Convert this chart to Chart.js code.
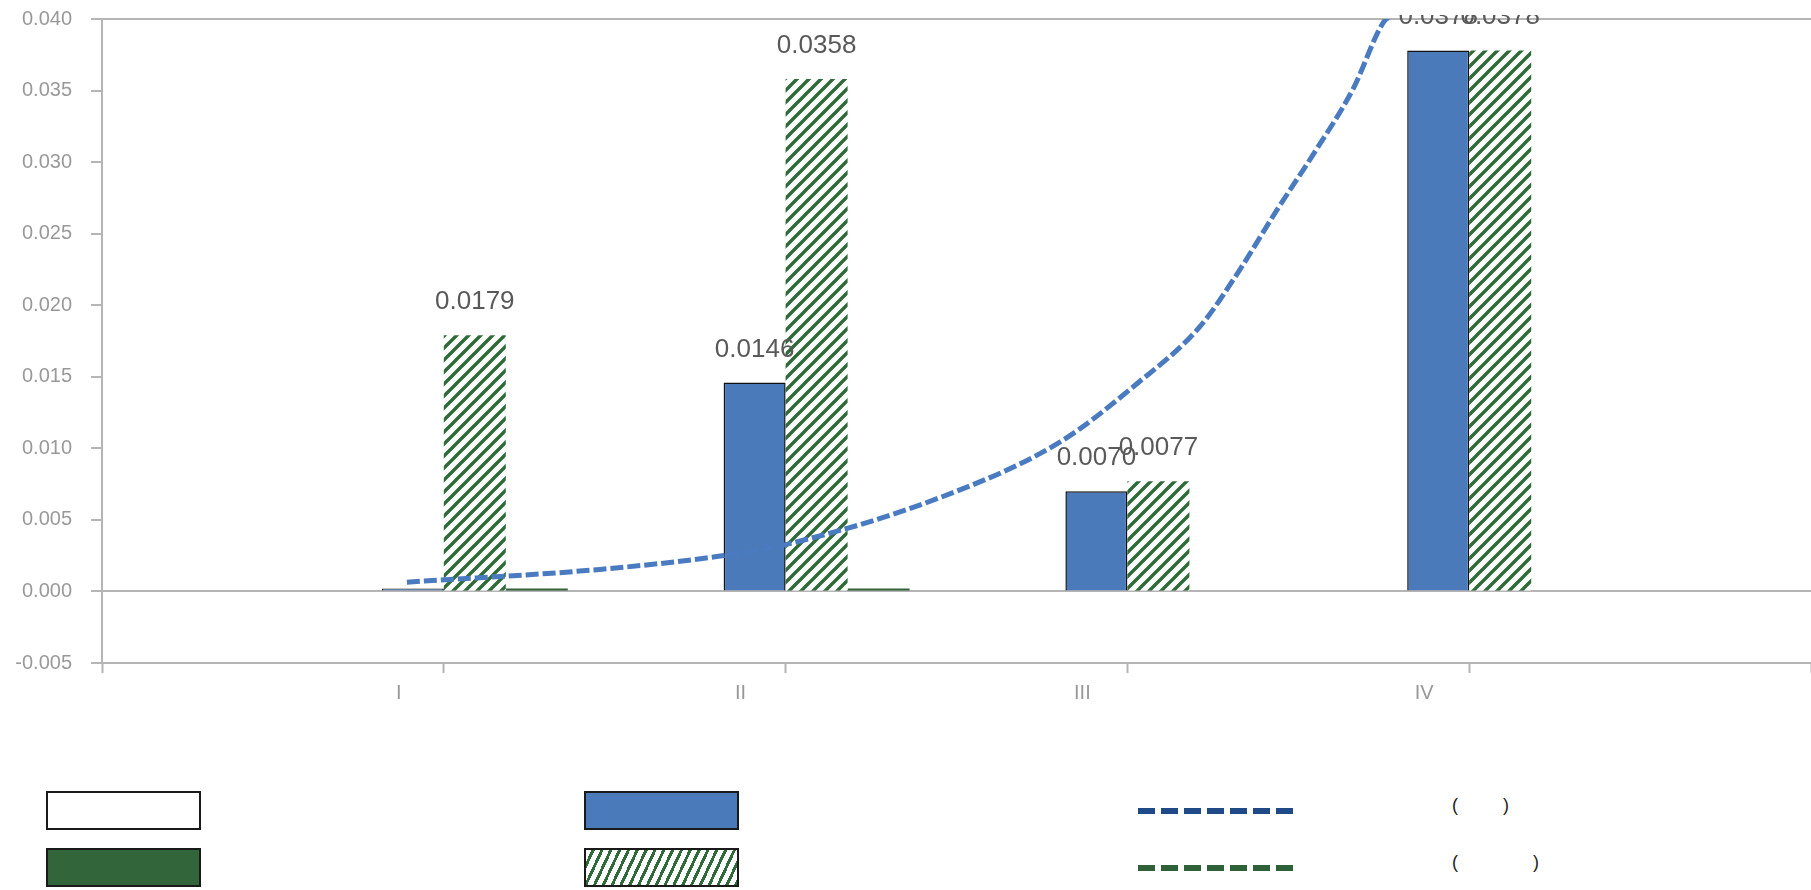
<!DOCTYPE html>
<html>
<head>
<meta charset="utf-8">
<script src="https://cdn.jsdelivr.net/npm/chart.js@4.4.0/dist/chart.umd.min.js"></script>
<style>
	body { margin: 0; background: #fff; width: 1811px; height: 890px; overflow: hidden; position: relative; font-family: "Liberation Sans", Arial, sans-serif; }
	#wrap { position: absolute; left: 0; top: -12px; width: 1819px; height: 772px; }
	.lg-box { position: absolute; width: 155px; height: 39px; box-sizing: border-box; border: 2px solid #1a1a1a; }
	.lg-line { position: absolute; width: 160px; height: 6px; }
	.lg-text { position: absolute; font-size: 18px; line-height: 20px; color: #222; white-space: pre; }
</style>
</head>
<body>
<div id="wrap"><canvas id="chart" width="1819" height="772"></canvas></div>
<div id="legend"></div>
<script>
// categories sit at x = 1..4, the axis runs 0..5
const categories = ["I", "II", "III", "IV"];

const whiteValues = [0, 0, 0, 0];
const blueValues = [0.0002, 0.0146, 0.0070, 0.0378];
const hatchValues = [0.0179, 0.0358, 0.0077, 0.0378];
const darkValues = [0.0002, 0.0002, 0, 0];

// blue trend curve (x in category units)
const trendX = [0.892, 1.457, 1.804, 1.994, 2.464, 2.800, 3.025, 3.212, 3.324, 3.436, 3.548, 3.660, 3.750, 3.771];
const trendY = [0.00065, 0.00154, 0.00246, 0.00324, 0.00667, 0.0104, 0.01446, 0.0185, 0.0223, 0.0266, 0.0307, 0.0351, 0.0398, 0.0402];

const legendLabels = ["", "", "(         )", "", "", "(               )"];

const BLUE = "#4a7aba";
const DARK = "#32653a";
const STRIPE = "#2f6b38";
const AXIS = "#b5b5b5";

function makeHatch() {
	const c = document.createElement("canvas");
	c.width = 12; c.height = 12;
	const g = c.getContext("2d");
	g.fillStyle = "#fff";
	g.fillRect(0, 0, 12, 12);
	g.strokeStyle = STRIPE;
	g.lineWidth = 3.4;
	g.beginPath();
	g.moveTo(-6, 6); g.lineTo(6, -6);
	g.moveTo(0, 12); g.lineTo(12, 0);
	g.moveTo(6, 18); g.lineTo(18, 6);
	g.stroke();
	return g.createPattern(c, "repeat");
}

const toPoints = arr => arr.map((y, i) => ({ x: i + 1, y: y }));

const valueLabels = {
	id: "valueLabels",
	afterDatasetsDraw(chart) {
		const ctx = chart.ctx;
		ctx.save();
		ctx.beginPath();
		ctx.rect(0, 27, chart.width, chart.height);
		ctx.clip();
		ctx.font = '26px "Liberation Sans", Arial, sans-serif';
		ctx.fillStyle = "#595959";
		ctx.textAlign = "center";
		ctx.textBaseline = "alphabetic";
		[1, 2].forEach(di => {
			const meta = chart.getDatasetMeta(di);
			meta.data.forEach((bar, i) => {
				const v = chart.data.datasets[di].data[i].y;
				if (v < 0.001) return;
				ctx.fillText(v.toFixed(4), bar.x, bar.y - 26);
			});
		});
		ctx.restore();
	}
};

const near = (a, b) => Math.abs(a - b) < 1e-9;

new Chart(document.getElementById("chart"), {
	type: "bar",
	data: {
		datasets: [
			{ label: "white", data: toPoints(whiteValues), backgroundColor: "#fff", borderColor: "#1a1a1a", borderWidth: 1.5, order: 1 },
			{ label: "blue", data: toPoints(blueValues), backgroundColor: BLUE, borderColor: "#111", borderWidth: 1.5, order: 1 },
			{ label: "hatch", data: toPoints(hatchValues), backgroundColor: makeHatch(), borderWidth: 0, order: 1 },
			{ label: "dark", data: toPoints(darkValues), backgroundColor: DARK, borderWidth: 0, order: 1 },
			{
				type: "line", label: "trend", order: 0,
				data: trendX.map((x, i) => ({ x: x, y: trendY[i] })),
				borderColor: "#4a7bc0", borderWidth: 5, borderDash: [13, 4],
				pointRadius: 0, cubicInterpolationMode: "monotone", fill: false
			}
		]
	},
	options: {
		responsive: false,
		animation: false,
		devicePixelRatio: 1,
		layout: { padding: { top: 6, left: 0, right: 0, bottom: 0 } },
		plugins: { legend: { display: false }, tooltip: { enabled: false } },
		datasets: { bar: { barPercentage: 1, categoryPercentage: 0.7256 } },
		scales: {
			x: {
				type: "linear", min: 0, max: 5, offset: false,
				grid: { offset: false, drawOnChartArea: false, tickLength: 10, tickColor: AXIS, tickWidth: 2 },
				border: { color: AXIS, width: 2 },
				ticks: {
					stepSize: 1, color: "#999", padding: 8, labelOffset: -45, maxRotation: 0, autoSkip: false,
					font: { size: 20, family: '"Liberation Sans", Arial' },
					callback: v => categories[v - 1] || ""
				},
				afterFit(scale) { scale.height = 97; }
			},
			y: {
				min: -0.005, max: 0.040,
				ticks: {
					stepSize: 0.005, color: "#999", padding: 19,
					font: { size: 20, family: '"Liberation Sans", Arial' },
					callback: v => v.toFixed(3)
				},
				grid: {
					tickLength: 11, tickColor: AXIS, tickWidth: 2, lineWidth: 2,
					color: c => (near(c.tick.value, 0) || near(c.tick.value, 0.04)) ? AXIS : "rgba(0,0,0,0)"
				},
				border: { color: AXIS, width: 2 },
				afterFit(scale) { scale.width = 102; }
			}
		}
	},
	plugins: [valueLabels]
});

// legend, 2 rows x 3 columns
const legend = document.getElementById("legend");
const cols = [46, 584, 1138];
const rowTops = [791, 848];
const items = [
	{ kind: "box", fill: "#fff" },
	{ kind: "box", fill: BLUE },
	{ kind: "line", color: "#1f4a87" },
	{ kind: "box", fill: DARK },
	{ kind: "box", fill: "repeating-linear-gradient(115deg,#fff 0 5px," + STRIPE + " 5px 8px)" },
	{ kind: "line", color: "#2f6138" }
];
items.forEach((it, i) => {
	const r = Math.floor(i / 3), c = i % 3;
	const el = document.createElement("div");
	el.style.left = cols[c] + "px";
	if (it.kind === "box") {
		el.className = "lg-box";
		el.style.background = it.fill;
		el.style.top = rowTops[r] + "px";
	} else {
		el.className = "lg-line";
		el.style.top = (rowTops[r] + 17) + "px";
		el.style.background = "repeating-linear-gradient(90deg," + it.color + " 0 17px,transparent 17px 23px)";
	}
	legend.appendChild(el);
	if (legendLabels[i]) {
		const t = document.createElement("div");
		t.className = "lg-text";
		t.textContent = legendLabels[i];
		t.style.left = "1452px";
		t.style.top = (rowTops[r] + 4) + "px";
		legend.appendChild(t);
	}
});
</script>
</body>
</html>
